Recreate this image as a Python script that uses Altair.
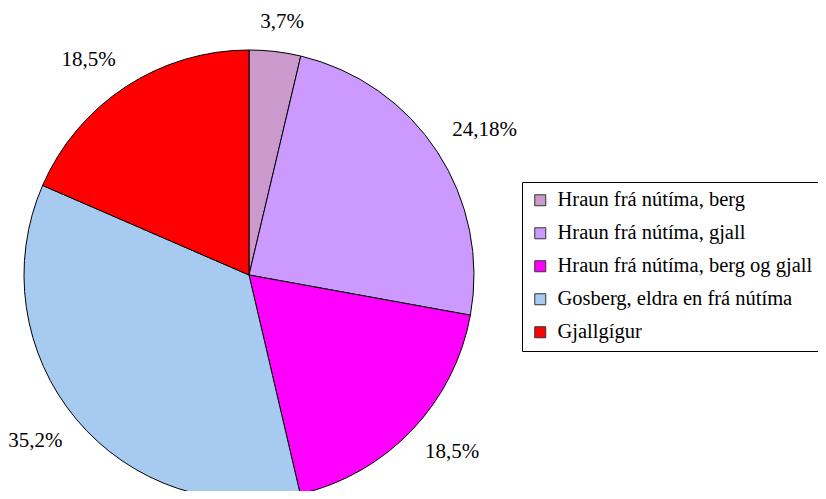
import altair as alt
import pandas as pd

categories = [
    "Hraun frá nútíma, berg",
    "Hraun frá nútíma, gjall",
    "Hraun frá nútíma, berg og gjall",
    "Gosberg, eldra en frá nútíma",
    "Gjallgígur",
]
values = [3.7, 24.18, 18.5, 35.2, 18.5]
labels = ["3,7%", "24,18%", "18,5%", "35,2%", "18,5%"]
colors = ["#CC99CC", "#CC99FF", "#FF00FF", "#A6CAF0", "#FF0000"]

df = pd.DataFrame({
    "cat": categories,
    "val": values,
    "label": labels,
    "order": list(range(len(categories))),
})

FONT = "Liberation Serif, Times New Roman, serif"
CX, CY = 241, 267
R = 225
ANCHOR = 243  # distance of the label anchor from the centre

pie = alt.Chart(df).mark_arc(outerRadius=R, stroke="black", strokeWidth=1).encode(
    theta=alt.Theta("val:Q", stack=True),
    order=alt.Order("order:Q"),
    x=alt.value(CX),
    y=alt.value(CY),
    color=alt.Color(
        "cat:N",
        scale=alt.Scale(domain=categories, range=colors),
        sort=categories,
        legend=alt.Legend(
            title=None,
            orient="none",
            legendX=514,
            legendY=174,
            strokeColor="black",
            fillColor="white",
            padding=8,
            symbolType="square",
            symbolSize=121,
            symbolStrokeColor="#333333",
            symbolStrokeWidth=1,
            symbolOpacity=1,
            labelFont=FONT,
            labelFontSize=20.5,
            labelColor="black",
            labelOffset=7,
            labelLimit=400,
            rowPadding=12,
        ),
    ),
)

# Excel-style outside-end labels: the label box sits beyond an anchor point on the rim
text = alt.Chart(df).transform_joinaggregate(
    total="sum(val)"
).transform_window(
    cum="sum(val)", sort=[alt.SortField("order")], frame=[None, 0]
).transform_calculate(
    mid="(datum.cum - datum.val / 2) / datum.total * 2 * PI",
).transform_calculate(
    s="sin(datum.mid)",
    c="cos(datum.mid)",
).transform_calculate(
    px=f"{CX} + {ANCHOR} * datum.s + clamp(2 * datum.s, -1, 1) * length(datum.label) * 5.4",
    py=f"{CY} - {ANCHOR} * datum.c - clamp(2 * datum.c, -1, 1) * 11",
).mark_text(font=FONT, fontSize=21, color="black", baseline="middle", dy=-1).encode(
    x=alt.X("px:Q", scale=None, axis=None),
    y=alt.Y("py:Q", scale=None, axis=None),
    text="label:N",
)

chart = (pie + text).properties(
    width=810,
    height=483,
    autosize=alt.AutoSizeParams(type="none"),
    padding=0,
    background="white",
).configure_view(strokeWidth=0, stroke="transparent")

chart.save("out.html", embed_options={"renderer": "svg", "actions": False})
